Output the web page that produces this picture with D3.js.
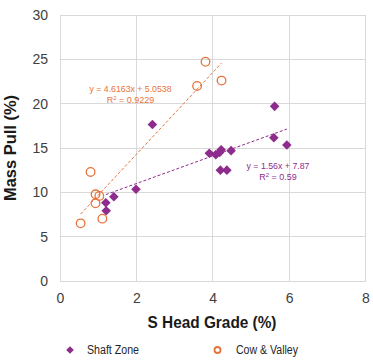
<!DOCTYPE html>
<html><head><meta charset="utf-8">
<script src="https://cdn.jsdelivr.net/npm/d3@7"></script>
<style>body{margin:0;background:#fff}svg{display:block}</style>
</head><body><div id="chart"></div>
<script>
const xTicks = [0, 2, 4, 6, 8];
const yTicks = [0, 5, 10, 15, 20, 25, 30];
const shaftX = [2.42, 1.20, 1.21, 1.41, 1.99, 3.91, 4.08, 4.18, 4.22, 4.48, 4.20, 4.37, 5.62, 5.60, 5.94];
const shaftY = [17.65, 8.83, 7.93, 9.50, 10.34, 14.40, 14.25, 14.50, 14.80, 14.70, 12.50, 12.50, 19.70, 16.16, 15.34];
const cowX = [0.54, 0.80, 0.93, 1.03, 0.93, 1.11, 3.81, 3.59, 4.23];
const cowY = [6.50, 12.30, 9.78, 9.60, 8.76, 7.03, 24.73, 22.00, 22.60];
const shaftFit = {slope: 1.56, intercept: 7.87, label: "y = 1.56x + 7.87", r2: "0.59"};
const cowFit = {slope: 4.6163, intercept: 5.0538, label: "y = 4.6163x + 5.0538", r2: "0.9229"};
const seriesNames = ["Shaft Zone", "Cow & Valley"];

const W = 373, H = 360;
const purple = "#8E2C8E", orange = "#E8733A";
const font = "'Liberation Sans',Arial,sans-serif";
const svg = d3.select("#chart").append("svg").attr("width", W).attr("height", H);
const x = d3.scaleLinear().domain([0, 8]).range([60, 365.5]);
const y = d3.scaleLinear().domain([0, 30]).range([281, 15]);

// grid
svg.append("g").selectAll("line").data(yTicks).join("line")
  .attr("x1", x(0)).attr("x2", x(8)).attr("y1", d => y(d)).attr("y2", d => y(d))
  .attr("stroke", "#d9d9d9").attr("stroke-width", 1).attr("shape-rendering", "crispEdges");
svg.append("g").selectAll("line").data(xTicks).join("line")
  .attr("y1", y(0)).attr("y2", y(30)).attr("x1", d => x(d)).attr("x2", d => x(d))
  .attr("stroke", "#d9d9d9").attr("stroke-width", 1).attr("shape-rendering", "crispEdges");

// axes
const xAxis = svg.append("g").attr("transform", `translate(0,${y(0)})`)
  .call(d3.axisBottom(x).tickValues(xTicks).tickSize(0).tickPadding(12));
const yAxis = svg.append("g").attr("transform", `translate(${x(0)},0)`)
  .call(d3.axisLeft(y).tickValues(yTicks).tickSize(0).tickPadding(12));
[xAxis, yAxis].forEach(a => {
  a.select(".domain").attr("stroke", "#d9d9d9");
  a.selectAll("text").attr("font-family", font).attr("font-size", 14).attr("fill", "#404040");
});

// trendlines
function trend(xs, fit, color) {
  const x0 = d3.min(xs), x1 = d3.max(xs);
  svg.append("line")
    .attr("x1", x(x0)).attr("y1", y(fit.slope * x0 + fit.intercept))
    .attr("x2", x(x1)).attr("y2", y(fit.slope * x1 + fit.intercept))
    .attr("stroke", color).attr("stroke-width", 1).attr("stroke-dasharray", "3,2");
}
trend(cowX, cowFit, orange);
trend(shaftX, shaftFit, purple);

// points
const dPath = s => `M0,${-s}L${s},0L0,${s}L${-s},0Z`;
svg.append("g").selectAll("path").data(shaftX.map((d, i) => [d, shaftY[i]])).join("path")
  .attr("d", dPath(4.8)).attr("transform", d => `translate(${x(d[0])},${y(d[1])})`)
  .attr("fill", purple);
svg.append("g").selectAll("circle").data(cowX.map((d, i) => [d, cowY[i]])).join("circle")
  .attr("cx", d => x(d[0])).attr("cy", d => y(d[1])).attr("r", 4.3)
  .attr("fill", "none").attr("stroke", orange).attr("stroke-width", 1.3);

// equation labels
function eq(px, py, fit, color, len) {
  svg.append("text").attr("x", px).attr("y", py).attr("text-anchor", "middle")
    .attr("font-family", font).attr("font-size", 9.5).attr("fill", color)
    .attr("textLength", len).attr("lengthAdjust", "spacingAndGlyphs")
    .text(fit.label);
  const t2 = svg.append("text").attr("x", px).attr("y", py + 11).attr("text-anchor", "middle")
    .attr("font-family", font).attr("font-size", 9).attr("fill", color);
  t2.append("tspan").text("R");
  t2.append("tspan").attr("dy", -3).attr("font-size", 6).text("2");
  t2.append("tspan").attr("dy", 3).text(" = " + fit.r2);
}
eq(130.5, 91.5, cowFit, orange, 82);
eq(278, 169, shaftFit, purple, 63);

// axis titles
svg.append("text").attr("x", 212).attr("y", 328).attr("text-anchor", "middle")
  .attr("font-family", font).attr("font-weight", "bold").attr("font-size", 17).attr("fill", "#1a1a1a")
  .attr("textLength", 129).attr("lengthAdjust", "spacingAndGlyphs")
  .text("S Head Grade (%)");
svg.append("text").attr("transform", "translate(16,148) rotate(-90)").attr("text-anchor", "middle")
  .attr("font-family", font).attr("font-weight", "bold").attr("font-size", 17).attr("fill", "#1a1a1a")
  .attr("textLength", 106).attr("lengthAdjust", "spacingAndGlyphs")
  .text("Mass Pull (%)");

// legend
svg.append("path").attr("d", dPath(3.8)).attr("transform", "translate(70,350)").attr("fill", purple);
svg.append("text").attr("x", 87).attr("y", 354).attr("font-family", font).attr("font-size", 12).attr("fill", "#262626")
  .attr("textLength", 52).attr("lengthAdjust", "spacingAndGlyphs").text(seriesNames[0]);
svg.append("circle").attr("cx", 217.5).attr("cy", 350).attr("r", 3).attr("fill", "none").attr("stroke", orange).attr("stroke-width", 1.8);
svg.append("text").attr("x", 236).attr("y", 354).attr("font-family", font).attr("font-size", 12).attr("fill", "#262626")
  .attr("textLength", 62).attr("lengthAdjust", "spacingAndGlyphs").text(seriesNames[1]);
</script></body></html>
